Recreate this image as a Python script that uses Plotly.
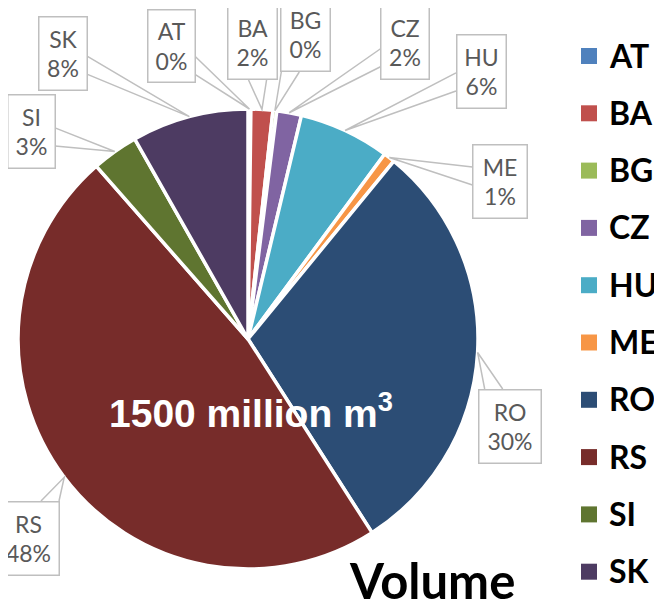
import math
import plotly.graph_objects as go

# ---- data ----
countries = ["AT", "BA", "BG", "CZ", "HU", "ME", "RO", "RS", "SI", "SK"]
volumes = [3, 23, 4, 26, 96, 12, 450, 714, 49, 123]  # million m3, total 1500
colors = ["#4F81BD", "#C0504D", "#9BBB59", "#8064A2", "#4BACC6",
          "#F79646", "#2C4D75", "#772C2A", "#5F7530", "#4D3B62"]
total_label = "1500 million m<sup>3</sup>"
title_text = "Volume"

# ---- layout (pixels, in window coordinates) ----
OFF = 8                      # page body margin
WIN_W, WIN_H = 662, 609
W, H = WIN_W - OFF, WIN_H - OFF
CX, CY, R = 248, 339, 230
# label box centres and sizes (px)
box_pos = {
    "AT": (171, 46, 48, 73),
    "BA": (252, 43, 50, 74),
    "BG": (305, 35, 50, 74),
    "CZ": (405, 43, 49, 74),
    "HU": (481, 71, 50, 74),
    "ME": (500, 182, 55, 74),
    "RO": (510, 426, 63, 74),
    "RS": (28, 538, 62, 74),
    "SI": (31, 131, 48, 74),
    "SK": (63, 53, 49, 74),
}
legend_x_sq, legend_x_txt = 589, 607
legend_y0, legend_dy = 55, 57.3


def px(x):
    return (x - OFF) / W


def py(y):
    return 1 - (y - OFF) / H


fig = go.Figure()
fig.add_trace(go.Pie(
    labels=countries, values=volumes, sort=False, direction="clockwise",
    rotation=0, textinfo="none", hoverinfo="label+percent+value",
    marker=dict(colors=colors, line=dict(color="white", width=3.5)),
    domain=dict(x=[px(CX - R), px(CX + R)], y=[py(CY + R), py(CY - R)]),
    showlegend=False,
))

total = sum(volumes)
annotations = []
shapes = []
cum = 0
for name, v in zip(countries, volumes):
    mid = (cum + v / 2) / total * 2 * math.pi
    cum += v
    tx = CX + R * math.sin(mid)
    ty = CY - R * math.cos(mid)
    bx, by, bw, bh = box_pos[name]
    hw, hh = bw / 2, bh / 2
    dx, dy = tx - bx, ty - by
    if abs(dx) / hw > abs(dy) / hh:
        sx = bx + math.copysign(hw, dx)
        iy = by + dy * hw / abs(dx)
        iy = min(max(iy, by - hh + 9), by + hh - 9)
        p1, p2 = (sx, iy - 9), (sx, iy + 9)
    else:
        sy = by + math.copysign(hh, dy)
        ix = bx + dx * hh / abs(dy)
        ix = min(max(ix, bx - hw + 9), bx + hw - 9)
        p1, p2 = (ix - 9, sy), (ix + 9, sy)
    shapes.append(dict(
        type="path", xref="paper", yref="paper",
        path=f"M {px(p1[0])},{py(p1[1])} L {px(tx)},{py(ty)} L {px(p2[0])},{py(p2[1])}",
        line=dict(color="#BFBFBF", width=1.5),
    ))
    pct = round(v / total * 100)
    annotations.append(dict(
        x=px(bx), y=py(by), xref="paper", yref="paper", showarrow=False,
        text=f"{name}<br>{pct}%", align="center",
        width=bw - 10, height=bh - 10, borderpad=4,
        bgcolor="white", bordercolor="#BFBFBF", borderwidth=1.5,
        font=dict(family="Lato", size=23, color="#595959"),
        xanchor="center", yanchor="middle",
    ))

# manual legend
for i, (name, c) in enumerate(zip(countries, colors)):
    yc = legend_y0 + i * legend_dy
    shapes.append(dict(
        type="rect", xref="paper", yref="paper",
        x0=px(legend_x_sq - 8), x1=px(legend_x_sq + 8),
        y0=py(yc + 9), y1=py(yc - 7),
        fillcolor=c, line=dict(width=0),
    ))
    annotations.append(dict(
        x=px(legend_x_txt), y=py(yc), xref="paper", yref="paper",
        showarrow=False, text=f"<b>{name}</b>", xanchor="left", yanchor="middle",
        font=dict(family="Lato", size=32, color="black"),
    ))

annotations.append(dict(
    x=px(251), y=py(410), xref="paper", yref="paper", showarrow=False,
    text=f"<b>{total_label}</b>", xanchor="center", yanchor="middle",
    font=dict(family="Liberation Sans", size=39, color="white"),
))
annotations.append(dict(
    x=px(432), y=py(580), xref="paper", yref="paper", showarrow=False,
    text=f"<b>{title_text}</b>", xanchor="center", yanchor="middle",
    font=dict(family="Lato", size=49, color="black"),
))

fig.update_layout(
    width=W, height=H, autosize=False,
    margin=dict(l=0, r=0, t=0, b=0),
    paper_bgcolor="white", plot_bgcolor="white",
    annotations=annotations, shapes=shapes,
)
fig.write_html("out.html")
